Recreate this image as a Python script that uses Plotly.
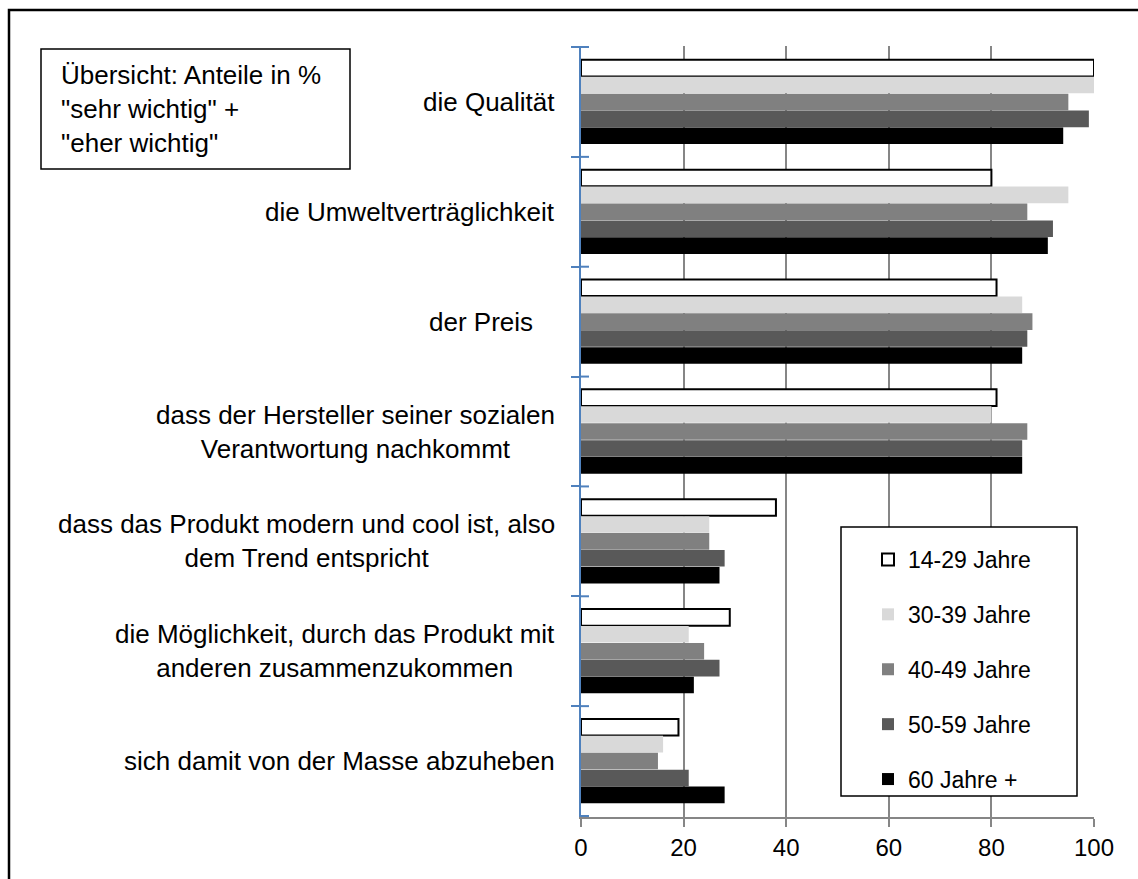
import plotly.graph_objects as go

categories = [
    "die Qualität",
    "die Umweltverträglichkeit",
    "der Preis",
    "dass der Hersteller seiner sozialen Verantwortung nachkommt",
    "dass das Produkt modern und cool ist, also dem Trend entspricht",
    "die Möglichkeit, durch das Produkt mit anderen zusammenzukommen",
    "sich damit von der Masse abzuheben",
]
category_labels = [
    "die Qualität",
    "die Umweltverträglichkeit",
    "der Preis\u00a0\u00a0\u00a0",
    "dass der Hersteller seiner sozialen<br>Verantwortung nachkommt",
    "dass das Produkt modern und cool ist, also<br>dem Trend entspricht",
    "die Möglichkeit, durch das Produkt mit<br>anderen zusammenzukommen",
    "sich damit von der Masse abzuheben",
]
series_names = ["14-29 Jahre", "30-39 Jahre", "40-49 Jahre", "50-59 Jahre", "60 Jahre +"]
v_14_29 = [100, 80, 81, 81, 38, 29, 19]
v_30_39 = [100, 95, 86, 80, 25, 21, 16]
v_40_49 = [95, 87, 88, 87, 25, 24, 15]
v_50_59 = [99, 92, 87, 86, 28, 27, 21]
v_60_plus = [94, 91, 86, 86, 27, 22, 28]
series_values = [v_14_29, v_30_39, v_40_49, v_50_59, v_60_plus]
x_ticks = [0, 20, 40, 60, 80, 100]

colors = ["#FFFFFF", "#D9D9D9", "#808080", "#595959", "#000000"]
line_w = [2, 0, 0, 0, 0]

W, H = 1138, 879
L, R, T, B = 581, 1094, 46, 817
FONT = "Liberation Sans, Arial, sans-serif"


def px_x(p):
    return (p - L) / (R - L)


def px_y(p):
    return (B - p) / (B - T)


fig = go.Figure()
for name, vals, c, lw in zip(series_names, series_values, colors, line_w):
    fig.add_trace(go.Bar(
        y=categories, x=vals, name=name, orientation="h",
        marker=dict(color=c, line=dict(color="#000000", width=lw)),
        legendgroup=name,
    ))

shapes = []
# outer chart border
shapes.append(dict(type="rect", xref="paper", yref="paper",
                   x0=px_x(9), x1=px_x(1160), y0=px_y(900), y1=px_y(10),
                   line=dict(color="#000000", width=2.5), layer="below"))
# title box
shapes.append(dict(type="rect", xref="paper", yref="paper",
                   x0=px_x(41), x1=px_x(350), y0=px_y(169), y1=px_y(49),
                   line=dict(color="#000000", width=1.5), fillcolor="#FFFFFF"))
# legend box
shapes.append(dict(type="rect", xref="paper", yref="paper",
                   x0=px_x(841), x1=px_x(1077), y0=px_y(796), y1=px_y(527),
                   line=dict(color="#000000", width=1.5), fillcolor="#FFFFFF", layer="above"))
# inner part of category boundary ticks
for i in range(len(categories) + 1):
    shapes.append(dict(type="line", xref="paper", yref="y",
                       x0=0, x1=px_x(589), y0=i - 0.5, y1=i - 0.5,
                       line=dict(color="#4F81BD", width=2)))

annotations = []
for cat, lab in zip(categories, category_labels):
    annotations.append(dict(x=px_x(557), xref="paper", y=cat, yref="y",
                            text=lab, showarrow=False, xanchor="right", yanchor="middle",
                            align="center", font=dict(size=26, color="#000000", family=FONT)))
annotations.append(dict(x=px_x(59), xref="paper", y=px_y(109), yref="paper",
                        text="Übersicht: Anteile in %<br>\"sehr wichtig\" +<br>\"eher wichtig\"",
                        showarrow=False, xanchor="left", yanchor="middle", align="left",
                        font=dict(size=26, color="#000000", family=FONT)))

fig.update_layout(
    width=W, height=H,
    margin=dict(l=L, r=W - R, t=T, b=H - B, pad=0),
    paper_bgcolor="#FFFFFF", plot_bgcolor="#FFFFFF",
    barmode="group", bargap=0.23, bargroupgap=0.02,
    font=dict(family=FONT, color="#000000", size=24),
    showlegend=True,
    legend=dict(x=px_x(868), y=px_y(538), xanchor="left", yanchor="top",
                font=dict(size=23, family=FONT), bgcolor="rgba(0,0,0,0)",
                borderwidth=0, tracegroupgap=22, traceorder="grouped",
                itemwidth=30),
    shapes=shapes,
    annotations=annotations,
    xaxis=dict(range=[0, 100], tickvals=x_ticks, ticktext=[str(t) for t in x_ticks],
               showgrid=True, gridcolor="#868686", gridwidth=2,
               showline=True, linecolor="#868686", linewidth=2,
               ticks="outside", ticklen=8, tickcolor="#868686", tickwidth=2,
               zeroline=False, tickfont=dict(size=24, family=FONT, color="#000000"),
               fixedrange=True),
    yaxis=dict(type="category", categoryorder="array", categoryarray=categories,
               autorange="reversed", showticklabels=False, showgrid=False,
               showline=True, linecolor="#4F81BD", linewidth=2,
               ticks="outside", tickson="boundaries", ticklen=8,
               tickcolor="#4F81BD", tickwidth=2, zeroline=False),
)

fig.write_html("out.html", config={"displayModeBar": False},
               post_script="document.body.style.margin='0';document.body.style.overflow='hidden';")
